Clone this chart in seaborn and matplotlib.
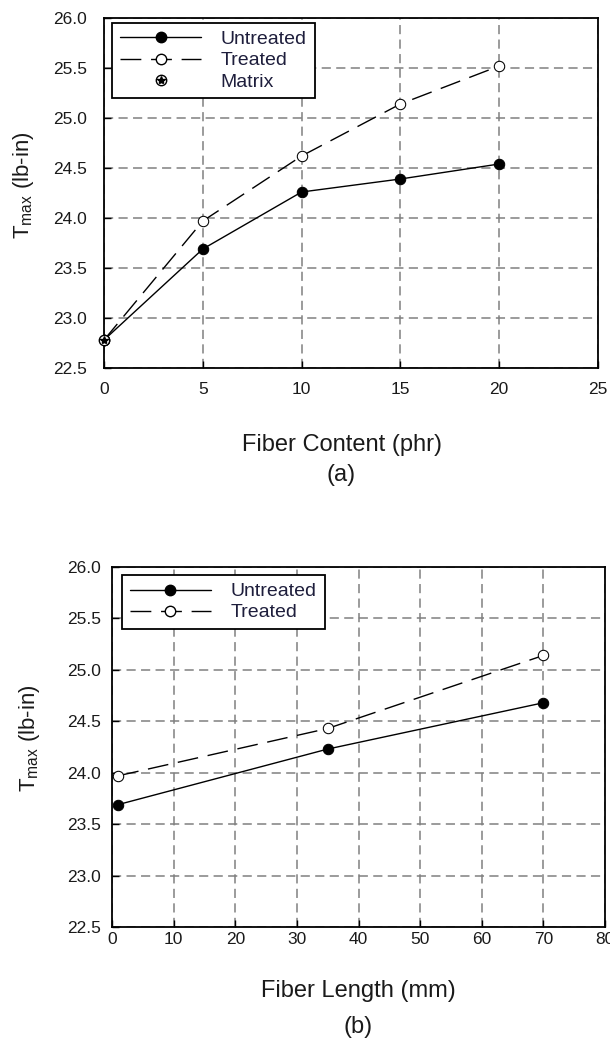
import matplotlib
matplotlib.use("Agg")
import matplotlib.pyplot as plt
import seaborn as sns
import pandas as pd
from matplotlib.lines import Line2D
from matplotlib.legend_handler import HandlerTuple

# Data
content = [0, 5, 10, 15, 20]
content_untreated = [22.78, 23.69, 24.26, 24.39, 24.54]
content_treated = [22.78, 23.97, 24.62, 25.14, 25.52]
matrix_x = [0]
matrix_y = [22.78]

length = [1, 35, 70]
length_untreated = [23.69, 24.23, 24.68]
length_treated = [23.97, 24.43, 25.14]

y_ticks = [22.5, 23.0, 23.5, 24.0, 24.5, 25.0, 25.5, 26.0]

sns.set_style("ticks")
plt.rcParams['font.family'] = ['Liberation Sans', 'DejaVu Sans']
plt.rcParams['mathtext.fontset'] = 'custom'
plt.rcParams['mathtext.rm'] = 'Liberation Sans'
plt.rcParams['mathtext.it'] = 'Liberation Sans'

fig = plt.figure(figsize=(6.1, 10.39), dpi=100)
W, H = 610, 1039
TXT = "#1a1a1a"
LEGTXT = "#1e1e3c"

def axes_px(x0, y0, x1, y1):
    return fig.add_axes([x0 / W, 1 - y1 / H, (x1 - x0) / W, (y1 - y0) / H])

ax1 = axes_px(104, 18, 598, 368)
ax2 = axes_px(112, 567, 605, 927)

def style(ax, xmax, xstep, xpad, ypad):
    ax.set_ylim(22.5, 26.0)
    ax.set_xlim(0, xmax)
    ax.set_xticks(range(0, xmax + 1, xstep))
    ax.set_yticks(y_ticks)
    ax.set_yticklabels([f"{v:.1f}" for v in y_ticks])
    ax.grid(True, color="#808080", linestyle=(0, (6, 3.5)), linewidth=1.1)
    ax.set_axisbelow(True)
    ax.tick_params(direction="in", labelsize=12.5, length=5, width=1,
                   colors="black", labelcolor=TXT)
    ax.tick_params(axis="x", pad=xpad)
    ax.tick_params(axis="y", pad=ypad)
    for s in ax.spines.values():
        s.set_linewidth(1.3)
        s.set_color("black")
    ax.set_xlabel("")
    ax.set_ylabel("")

LINE_DASH = (0, (15, 7))

# Top plot
df_u = pd.DataFrame({"x": content, "y": content_untreated})
df_t = pd.DataFrame({"x": content, "y": content_treated})
sns.lineplot(data=df_u, x="x", y="y", ax=ax1, color="black", linewidth=1.0,
             marker="o", markersize=7.5, markerfacecolor="black", markeredgecolor="black")
sns.lineplot(data=df_t, x="x", y="y", ax=ax1, color="black", linewidth=1.0,
             linestyle=LINE_DASH, marker="o", markersize=7.5,
             markerfacecolor="white", markeredgecolor="black")
ax1.plot(matrix_x, matrix_y, linestyle="none", marker="o", markersize=7.5,
         markerfacecolor="white", markeredgecolor="black", clip_on=False, zorder=5)
ax1.plot(matrix_x, matrix_y, linestyle="none", marker="*", markersize=6,
         color="black", clip_on=False, zorder=6)
style(ax1, 25, 5, 10, 12)

h_u = Line2D([], [], color="black", linewidth=1.0, marker="o", markersize=7.5,
             markerfacecolor="black")
h_t = Line2D([], [], color="black", linewidth=1.0, linestyle=LINE_DASH, marker="o",
             markersize=7.5, markerfacecolor="white", markeredgecolor="black")
h_m1 = Line2D([], [], linestyle="none", marker="o", markersize=7.5,
              markerfacecolor="white", markeredgecolor="black")
h_m2 = Line2D([], [], linestyle="none", marker="*", markersize=6, color="black")

leg_kw = dict(loc="upper left", fontsize=14, handlelength=4.2, handletextpad=1.0,
              borderpad=0.4, labelspacing=0.18, borderaxespad=0, frameon=True,
              fancybox=False, edgecolor="black", framealpha=1)
leg1 = ax1.legend([h_u, h_t, (h_m1, h_m2)], ["Untreated", "Treated", "Matrix"],
                  handler_map={tuple: HandlerTuple(ndivide=1, pad=0)},
                  bbox_to_anchor=(0.016, 0.986), **leg_kw)
leg1.get_frame().set_linewidth(1.3)
for t in leg1.get_texts():
    t.set_color(LEGTXT)

fig.text(23 / W, 1 - 185 / H, "T$_{max}$ (lb-in)", rotation=90, ha="center", va="center",
         fontsize=16, color=TXT)
fig.text(342 / W, 1 - 445 / H, "Fiber Content (phr)", ha="center", va="center",
         fontsize=17, color=TXT)
fig.text(341 / W, 1 - 475 / H, "(a)", ha="center", va="center", fontsize=17, color=TXT)

# Bottom plot
df_u2 = pd.DataFrame({"x": length, "y": length_untreated})
df_t2 = pd.DataFrame({"x": length, "y": length_treated})
sns.lineplot(data=df_u2, x="x", y="y", ax=ax2, color="black", linewidth=1.0,
             marker="o", markersize=7.5, markerfacecolor="black", markeredgecolor="black")
sns.lineplot(data=df_t2, x="x", y="y", ax=ax2, color="black", linewidth=1.0,
             linestyle=LINE_DASH, marker="o", markersize=7.5,
             markerfacecolor="white", markeredgecolor="black")
style(ax2, 80, 10, 3.5, 8)
leg2 = ax2.legend([h_u, h_t], ["Untreated", "Treated"],
                  bbox_to_anchor=(0.02, 0.978), **leg_kw)
leg2.get_frame().set_linewidth(1.3)
for t in leg2.get_texts():
    t.set_color(LEGTXT)

fig.text(30 / W, 1 - 738 / H, "T$_{max}$ (lb-in)", rotation=90, ha="center", va="center",
         fontsize=16, color=TXT)
fig.text(358 / W, 1 - 991 / H, "Fiber Length (mm)", ha="center", va="center",
         fontsize=17, color=TXT)
fig.text(358 / W, 1 - 1027 / H, "(b)", ha="center", va="center", fontsize=17, color=TXT)

fig.savefig("out.png", dpi=100, facecolor="white")
